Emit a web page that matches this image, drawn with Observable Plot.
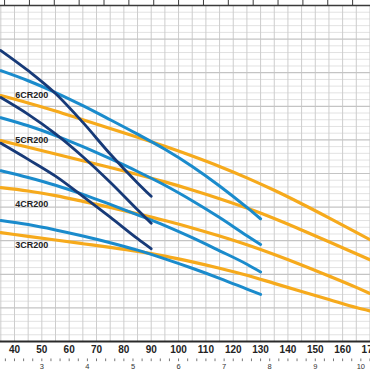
<!DOCTYPE html>
<html>
<head>
<meta charset="utf-8">
<script src="https://cdn.jsdelivr.net/npm/d3@7"></script>
<script src="https://cdn.jsdelivr.net/npm/@observablehq/plot@0.6"></script>
<style>
  html, body { margin: 0; padding: 0; background: #fff; }
</style>
</head>
<body>
<script>
// Flow (l/min) sample points
const flowDark = [35, 45, 55, 65, 75, 85, 90];
const flowBlue = [35, 45, 55, 65, 75, 85, 95, 105, 115, 125, 130];
const flowOrange = [35, 45, 55, 65, 75, 85, 95, 105, 115, 125, 135, 145, 155, 165, 170];

// Head values (grid units)
const dark1 = [43.3, 40.3, 36.9, 32.6, 27.9, 23.6, 21.6];
const dark2 = [36.3, 33.8, 30.9, 27.5, 23.7, 19.6, 17.6];
const dark3 = [29.5, 27.1, 24.6, 21.6, 18.5, 15.3, 13.8];

const blue6 = [40.3, 38.8, 37.05, 35.1, 33.0, 30.85, 28.6, 26.05, 23.15, 19.95, 18.25];
const blue5 = [33.3, 32.1, 30.65, 29.0, 27.2, 25.3, 23.25, 20.95, 18.45, 15.75, 14.45];
const blue4 = [25.4, 24.4, 23.25, 21.9, 20.4, 18.85, 17.25, 15.45, 13.5, 11.5, 10.35];
const blue3 = [18.0, 17.4, 16.6, 15.7, 14.7, 13.6, 12.3, 10.9, 9.4, 7.8, 7.0];

const orange6 = [36.6, 35.5, 34.3, 33.0, 31.7, 30.4, 29.05, 27.6, 26.05, 24.35, 22.5, 20.5, 18.4, 16.25, 15.15];
const orange5 = [29.9, 28.9, 27.9, 26.9, 25.9, 24.85, 23.75, 22.55, 21.25, 19.85, 18.3, 16.6, 14.85, 13.05, 12.15];
const orange4 = [22.9, 22.4, 21.7, 20.85, 19.95, 19.0, 18.0, 16.9, 15.7, 14.4, 12.95, 11.4, 9.75, 8.05, 7.15];
const orange3 = [16.2, 15.65, 15.1, 14.55, 14.0, 13.4, 12.7, 11.85, 10.9, 9.85, 8.65, 7.45, 6.25, 5.05, 4.55];

// Labels
const modelLabels = ["6CR200", "5CR200", "4CR200", "3CR200"];
const labelHeads = [36.7, 30.0, 20.4, 14.3];

// Axis ticks
const flowTicks = [40, 50, 60, 70, 80, 90, 100, 110, 120, 130, 140, 150, 160, 170];
const m3hLabels = [3, 4, 5, 6, 7, 8, 9, 10];
const gpmTicks = [8, 10, 12, 14, 16, 18, 20, 22, 24, 26, 28, 30, 32, 34, 36, 38];

const toRows = (xs, ys, key) => xs.map((x, i) => ({x, y: ys[i], key}));
const darkRows = [dark1, dark2, dark3].flatMap((s, k) => toRows(flowDark, s, "d" + k));
const blueRows = [blue6, blue5, blue4, blue3].flatMap((s, k) => toRows(flowBlue, s, "b" + k));
const orangeRows = [orange6, orange5, orange4, orange3].flatMap((s, k) => toRows(flowOrange, s, "o" + k));
const labelRows = modelLabels.map((t, i) => ({t, y: labelHeads[i]}));

const m3hMinor = d3.range(22, 103, 2).map(d => d / 10);
const font = "'Liberation Sans Narrow', 'Arial Narrow', 'Liberation Sans', Arial, sans-serif";

const chart = Plot.plot({
  width: 370,
  height: 370,
  marginTop: 5,
  marginBottom: 29,
  marginLeft: 0,
  marginRight: 0,
  style: {fontFamily: font, background: "#fff", overflow: "hidden"},
  x: {domain: [34.88, 170.2], axis: null},
  y: {domain: [0, 50], axis: null},
  marks: [
    // grid
    Plot.ruleY(d3.range(1, 50).filter(d => d % 5 !== 0), {stroke: "#e2e2e2", strokeWidth: 1}),
    Plot.ruleX(d3.range(35, 171, 5), {y1: 0, y2: 50, stroke: "#cdcdcd", strokeWidth: 1}),
    Plot.ruleY(d3.range(5, 50, 5), {stroke: "#c4c4c4", strokeWidth: 1.2}),
    // curves
    Plot.line(orangeRows, {x: "x", y: "y", z: "key", stroke: "#f6aa1c", strokeWidth: 3.2, curve: "monotone-x", clip: true}),
    Plot.line(blueRows, {x: "x", y: "y", z: "key", stroke: "#1a8bcc", strokeWidth: 3, curve: "monotone-x", clip: true}),
    Plot.line(darkRows, {x: "x", y: "y", z: "key", stroke: "#173a78", strokeWidth: 2.8, curve: "monotone-x", clip: true}),
    // model labels
    Plot.text(labelRows, {x: 40.3, y: "y", text: "t", textAnchor: "start", fontSize: 9, fontWeight: "bold", fill: "#222"}),
    // top axis (imperial gpm ticks)
    Plot.ruleY([50], {stroke: "#3a3a3a", strokeWidth: 1.5}),
    Plot.ruleX(gpmTicks, {x: d => d * 4.54609, y1: 50, y2: 50.8, stroke: "#3a3a3a", strokeWidth: 1}),
    // bottom axis (l/min)
    Plot.ruleY([0], {stroke: "#2a2a2a", strokeWidth: 2}),
    Plot.axisX({ticks: flowTicks, label: null, tickSize: 0, tickPadding: 4, fontSize: 10, fontWeight: "bold", fill: "#222", tickFormat: d => String(d)}),
    // secondary axis (m3/h)
    Plot.ruleX(m3hMinor, {x: d => d / 0.06, y1: -2.6, y2: -3.0, stroke: "#555", strokeWidth: 0.8}),
    Plot.text(m3hLabels, {x: d => d / 0.06, y: -3.75, text: d => String(d), fontSize: 7.5, fill: "#333"})
  ]
});
document.body.appendChild(chart);
</script>
</body>
</html>
